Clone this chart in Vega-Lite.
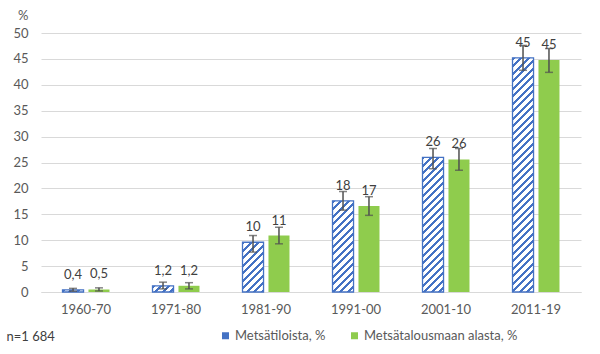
{
"$schema": "https://vega.github.io/schema/vega-lite/v6.json",
"width": 540, "height": 259,
"autosize": {"type": "none"},
"padding": {"left": 41, "top": 33, "right": 19, "bottom": 62},
"background": "white",
"params": [{"name": "stripes", "value": [
{"offset":0,"color":"#4472C4"},{"offset":0.01,"color":"#4472C4"},{"offset":0.01,"color":"#fff"},{"offset":0.025,"color":"#fff"},
{"offset":0.025,"color":"#4472C4"},{"offset":0.035,"color":"#4472C4"},{"offset":0.035,"color":"#fff"},{"offset":0.05,"color":"#fff"},
{"offset":0.05,"color":"#4472C4"},{"offset":0.06,"color":"#4472C4"},{"offset":0.06,"color":"#fff"},{"offset":0.075,"color":"#fff"},
{"offset":0.075,"color":"#4472C4"},{"offset":0.085,"color":"#4472C4"},{"offset":0.085,"color":"#fff"},{"offset":0.1,"color":"#fff"},
{"offset":0.1,"color":"#4472C4"},{"offset":0.11,"color":"#4472C4"},{"offset":0.11,"color":"#fff"},{"offset":0.125,"color":"#fff"},
{"offset":0.125,"color":"#4472C4"},{"offset":0.135,"color":"#4472C4"},{"offset":0.135,"color":"#fff"},{"offset":0.15,"color":"#fff"},
{"offset":0.15,"color":"#4472C4"},{"offset":0.16,"color":"#4472C4"},{"offset":0.16,"color":"#fff"},{"offset":0.175,"color":"#fff"},
{"offset":0.175,"color":"#4472C4"},{"offset":0.185,"color":"#4472C4"},{"offset":0.185,"color":"#fff"},{"offset":0.2,"color":"#fff"},
{"offset":0.2,"color":"#4472C4"},{"offset":0.21,"color":"#4472C4"},{"offset":0.21,"color":"#fff"},{"offset":0.225,"color":"#fff"},
{"offset":0.225,"color":"#4472C4"},{"offset":0.235,"color":"#4472C4"},{"offset":0.235,"color":"#fff"},{"offset":0.25,"color":"#fff"},
{"offset":0.25,"color":"#4472C4"},{"offset":0.26,"color":"#4472C4"},{"offset":0.26,"color":"#fff"},{"offset":0.275,"color":"#fff"},
{"offset":0.275,"color":"#4472C4"},{"offset":0.285,"color":"#4472C4"},{"offset":0.285,"color":"#fff"},{"offset":0.3,"color":"#fff"},
{"offset":0.3,"color":"#4472C4"},{"offset":0.31,"color":"#4472C4"},{"offset":0.31,"color":"#fff"},{"offset":0.325,"color":"#fff"},
{"offset":0.325,"color":"#4472C4"},{"offset":0.335,"color":"#4472C4"},{"offset":0.335,"color":"#fff"},{"offset":0.35,"color":"#fff"},
{"offset":0.35,"color":"#4472C4"},{"offset":0.36,"color":"#4472C4"},{"offset":0.36,"color":"#fff"},{"offset":0.375,"color":"#fff"},
{"offset":0.375,"color":"#4472C4"},{"offset":0.385,"color":"#4472C4"},{"offset":0.385,"color":"#fff"},{"offset":0.4,"color":"#fff"},
{"offset":0.4,"color":"#4472C4"},{"offset":0.41,"color":"#4472C4"},{"offset":0.41,"color":"#fff"},{"offset":0.425,"color":"#fff"},
{"offset":0.425,"color":"#4472C4"},{"offset":0.435,"color":"#4472C4"},{"offset":0.435,"color":"#fff"},{"offset":0.45,"color":"#fff"},
{"offset":0.45,"color":"#4472C4"},{"offset":0.46,"color":"#4472C4"},{"offset":0.46,"color":"#fff"},{"offset":0.475,"color":"#fff"},
{"offset":0.475,"color":"#4472C4"},{"offset":0.485,"color":"#4472C4"},{"offset":0.485,"color":"#fff"},{"offset":0.5,"color":"#fff"},
{"offset":0.5,"color":"#4472C4"},{"offset":0.51,"color":"#4472C4"},{"offset":0.51,"color":"#fff"},{"offset":0.525,"color":"#fff"},
{"offset":0.525,"color":"#4472C4"},{"offset":0.535,"color":"#4472C4"},{"offset":0.535,"color":"#fff"},{"offset":0.55,"color":"#fff"},
{"offset":0.55,"color":"#4472C4"},{"offset":0.56,"color":"#4472C4"},{"offset":0.56,"color":"#fff"},{"offset":0.575,"color":"#fff"},
{"offset":0.575,"color":"#4472C4"},{"offset":0.585,"color":"#4472C4"},{"offset":0.585,"color":"#fff"},{"offset":0.6,"color":"#fff"},
{"offset":0.6,"color":"#4472C4"},{"offset":0.61,"color":"#4472C4"},{"offset":0.61,"color":"#fff"},{"offset":0.625,"color":"#fff"},
{"offset":0.625,"color":"#4472C4"},{"offset":0.635,"color":"#4472C4"},{"offset":0.635,"color":"#fff"},{"offset":0.65,"color":"#fff"},
{"offset":0.65,"color":"#4472C4"},{"offset":0.66,"color":"#4472C4"},{"offset":0.66,"color":"#fff"},{"offset":0.675,"color":"#fff"},
{"offset":0.675,"color":"#4472C4"},{"offset":0.685,"color":"#4472C4"},{"offset":0.685,"color":"#fff"},{"offset":0.7,"color":"#fff"},
{"offset":0.7,"color":"#4472C4"},{"offset":0.71,"color":"#4472C4"},{"offset":0.71,"color":"#fff"},{"offset":0.725,"color":"#fff"},
{"offset":0.725,"color":"#4472C4"},{"offset":0.735,"color":"#4472C4"},{"offset":0.735,"color":"#fff"},{"offset":0.75,"color":"#fff"},
{"offset":0.75,"color":"#4472C4"},{"offset":0.76,"color":"#4472C4"},{"offset":0.76,"color":"#fff"},{"offset":0.775,"color":"#fff"},
{"offset":0.775,"color":"#4472C4"},{"offset":0.785,"color":"#4472C4"},{"offset":0.785,"color":"#fff"},{"offset":0.8,"color":"#fff"},
{"offset":0.8,"color":"#4472C4"},{"offset":0.81,"color":"#4472C4"},{"offset":0.81,"color":"#fff"},{"offset":0.825,"color":"#fff"},
{"offset":0.825,"color":"#4472C4"},{"offset":0.835,"color":"#4472C4"},{"offset":0.835,"color":"#fff"},{"offset":0.85,"color":"#fff"},
{"offset":0.85,"color":"#4472C4"},{"offset":0.86,"color":"#4472C4"},{"offset":0.86,"color":"#fff"},{"offset":0.875,"color":"#fff"},
{"offset":0.875,"color":"#4472C4"},{"offset":0.885,"color":"#4472C4"},{"offset":0.885,"color":"#fff"},{"offset":0.9,"color":"#fff"},
{"offset":0.9,"color":"#4472C4"},{"offset":0.91,"color":"#4472C4"},{"offset":0.91,"color":"#fff"},{"offset":0.925,"color":"#fff"},
{"offset":0.925,"color":"#4472C4"},{"offset":0.935,"color":"#4472C4"},{"offset":0.935,"color":"#fff"},{"offset":0.95,"color":"#fff"},
{"offset":0.95,"color":"#4472C4"},{"offset":0.96,"color":"#4472C4"},{"offset":0.96,"color":"#fff"},{"offset":0.975,"color":"#fff"},
{"offset":0.975,"color":"#4472C4"},{"offset":0.985,"color":"#4472C4"},{"offset":0.985,"color":"#fff"},{"offset":1,"color":"#fff"}
]}],
"data": {"values": [
{"p":"1960-70","s":"Metsätiloista, %","v":0.4,"lo":0.15,"hi":0.7,"lab":"0,4"},
{"p":"1960-70","s":"Metsätalousmaan alasta, %","v":0.5,"lo":0.2,"hi":0.8,"lab":"0,5"},
{"p":"1971-80","s":"Metsätiloista, %","v":1.2,"lo":0.6,"hi":1.9,"lab":"1,2"},
{"p":"1971-80","s":"Metsätalousmaan alasta, %","v":1.2,"lo":0.6,"hi":1.8,"lab":"1,2"},
{"p":"1981-90","s":"Metsätiloista, %","v":9.6,"lo":7.7,"hi":10.9,"lab":"10"},
{"p":"1981-90","s":"Metsätalousmaan alasta, %","v":10.9,"lo":9.3,"hi":12.5,"lab":"11"},
{"p":"1991-00","s":"Metsätiloista, %","v":17.6,"lo":15.8,"hi":19.4,"lab":"18"},
{"p":"1991-00","s":"Metsätalousmaan alasta, %","v":16.6,"lo":14.8,"hi":18.4,"lab":"17"},
{"p":"2001-10","s":"Metsätiloista, %","v":26.0,"lo":23.8,"hi":27.7,"lab":"26"},
{"p":"2001-10","s":"Metsätalousmaan alasta, %","v":25.6,"lo":23.5,"hi":27.7,"lab":"26"},
{"p":"2011-19","s":"Metsätiloista, %","v":45.2,"lo":42.8,"hi":47.6,"lab":"45"},
{"p":"2011-19","s":"Metsätalousmaan alasta, %","v":44.8,"lo":42.4,"hi":47.0,"lab":"45"}
]},
"config": {"view": {"stroke": null}, "font": "Lato",
  "axisY": {"grid": true, "gridColor": "#D9D9D9", "domain": false, "ticks": false, "tickSize": 0, "labelPadding": 13,
            "labelColor": "#595959", "labelFontSize": 13, "tickCount": 11,
            "titleAngle": 0, "titleX": -13, "titleY": -18, "titleAlign": "right", "titleBaseline": "middle",
            "titleFontWeight": "normal", "titleFontSize": 13, "titleColor": "#595959"}},
"encoding": {
  "x": {"field": "p", "type": "nominal", "sort": null,
        "scale": {"paddingInner": 0.478, "paddingOuter": 0.239},
        "axis": {"domainColor": "#D9D9D9", "ticks": false, "tickSize": 0, "labelPadding": 11, "labelAngle": 0,
                 "labelColor": "#595959", "labelFontSize": 13, "title": "n=1 684", "titleX": -35, "titleY": 44,
                 "titleAlign": "left", "titleBaseline": "middle", "titleFontWeight": "normal", "titleFontSize": 13, "titleColor": "#404040"}},
  "xOffset": {"field": "s", "type": "nominal", "sort": null, "scale": {"paddingInner": 0.19, "paddingOuter": 0}}
},
"layer": [
  {"mark": {"type": "bar", "strokeWidth": 1.3},
   "encoding": {
     "y": {"field": "v", "type": "quantitative", "title": "%", "scale": {"domain": [0, 50], "nice": false},
           "axis": {"values": [0,5,10,15,20,25,30,35,40,45,50]}},
     "fill": {"condition": {"test": "datum.s === 'Metsätiloista, %'",
                            "value": {"expr": "{gradient:'linear',x1:0,y1:0,x2:300*21/(441+pow(scale('y',0)-scale('y',datum.v),2)),y2:300*(scale('y',0)-scale('y',datum.v))/(441+pow(scale('y',0)-scale('y',datum.v),2)),stops:stripes}"}},
              "field": "s", "type": "nominal",
              "scale": {"domain": ["Metsätiloista, %", "Metsätalousmaan alasta, %"], "range": ["#4472C4", "#8FCC4D"]},
              "legend": {"title": null, "orient": "none", "legendX": 178, "legendY": 296, "direction": "horizontal",
                         "symbolType": "square", "symbolSize": 49, "labelFontSize": 13, "labelColor": "#595959",
                         "labelOffset": 3, "columnPadding": 22, "symbolStrokeWidth": 0}},
     "stroke": {"condition": {"test": "datum.s === 'Metsätiloista, %'", "value": "#4472C4"}, "value": null}
   }},
  {"mark": {"type": "rule", "color": "#505050", "strokeWidth": 1.5},
   "encoding": {"y": {"field": "lo", "type": "quantitative", "title": "%", "axis": {"values": [0,5,10,15,20,25,30,35,40,45,50]}}, "y2": {"field": "hi"}}},
  {"mark": {"type": "tick", "color": "#505050", "thickness": 1.5, "size": 8},
   "encoding": {"y": {"field": "lo", "type": "quantitative", "title": "%", "axis": {"values": [0,5,10,15,20,25,30,35,40,45,50]}}}},
  {"mark": {"type": "tick", "color": "#505050", "thickness": 1.5, "size": 8},
   "encoding": {"y": {"field": "hi", "type": "quantitative", "title": "%", "axis": {"values": [0,5,10,15,20,25,30,35,40,45,50]}}}},
  {"mark": {"type": "text", "dy": -15, "fontSize": 13, "color": "#404040", "baseline": "middle"},
   "encoding": {"y": {"field": "v", "type": "quantitative", "title": "%", "axis": {"values": [0,5,10,15,20,25,30,35,40,45,50]}}, "text": {"field": "lab"}}}
]
}
